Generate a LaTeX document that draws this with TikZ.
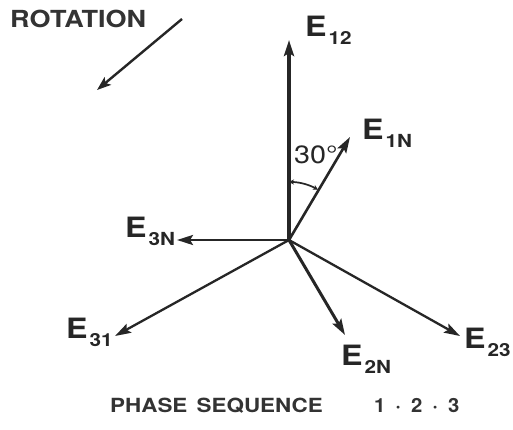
\documentclass[tikz,border=0pt]{standalone}
\usepackage{fontspec}
\usetikzlibrary{arrows.meta}
\newfontfamily\hv[FakeStretch=1.15]{TeX Gyre Heros}
\newfontfamily\hvn[FakeStretch=1.04]{TeX Gyre Heros}
\newcommand{\Elab}[1]{{\hv\bfseries\fontsize{28}{28}\selectfont E}\kern2pt\raisebox{-8pt}{\hv\bfseries\fontsize{18}{18}\selectfont #1}}
\tikzset{
  vec/.style={line width=2.6pt, draw=black!85, -{Stealth[length=16pt,width=10pt,inset=3pt]}},
  lab/.style={anchor=base west, inner sep=0pt, text=black!85},
  big/.style={anchor=base west, inner sep=0pt, text=black!80, font=\hv\bfseries},
}
\begin{document}
\begin{tikzpicture}[x=1pt,y=1pt]
\useasboundingbox[fill=white] (0,0) rectangle (513,429);
\coordinate (O) at (289,189);
\coordinate (t12) at (289,389);
\coordinate (t1N) at (350,292);
\coordinate (t3N) at (177,189);
\coordinate (t31) at (115,93);
\coordinate (t2N) at (345,94);
\coordinate (t23) at (460,93);
\coordinate (r1) at (182,410);
\coordinate (r2) at (97,339);
% vectors
\draw[vec, line width=3.3pt] (O) -- (t12);
\draw[vec] (O) -- (t1N);
\draw[vec] (O) -- (t3N);
\draw[vec, line width=2.3pt] (O) -- (t31);
\draw[vec, line width=3pt] (O) -- (t2N);
\draw[vec, line width=2.3pt] (O) -- (t23);
% rotation arrow
\draw[vec, line width=2.4pt, -{Stealth[length=14pt,width=10pt,inset=3pt]}] (r1) -- (r2);
% angle arc
\draw[line width=1.7pt, draw=black!85, {Stealth[length=5pt,width=5pt]}-{Stealth[length=5pt,width=5pt]}]
  ([shift={(90:58)}]O) arc[start angle=90, end angle=60, radius=58];
% labels
\node[lab] (l12) at (305,392) {\Elab{12}};
\node[lab] (l1N) at (362,289) {\Elab{1N}};
\node[lab] (l3N) at (125,192) {\Elab{3N}};
\node[lab] (l31) at (66,91) {\Elab{31}};
\node[lab] (l2N) at (341,64) {\Elab{2N}};
\node[lab] (l23) at (464,81) {\Elab{23}};
\node[lab, font=\hv\fontsize{25}{25}\selectfont] (ang) at (294,266) {30°};
\node[big, font=\hv\bfseries\fontsize{23.5}{23.5}\selectfont] (rot) at (10,401) {ROTATION};
\node[big, font=\hv\bfseries\fontsize{19.5}{19.5}\selectfont] (seq) at (110,17) {PHASE\hspace{3pt} SEQUENCE};
\node[big, font=\hvn\bfseries\fontsize{19.5}{19.5}\selectfont] (seqn) at (374,17) {1\hspace{10pt}·\hspace{10pt}2\hspace{10pt}·\hspace{10pt}3};
\end{tikzpicture}
\end{document}
